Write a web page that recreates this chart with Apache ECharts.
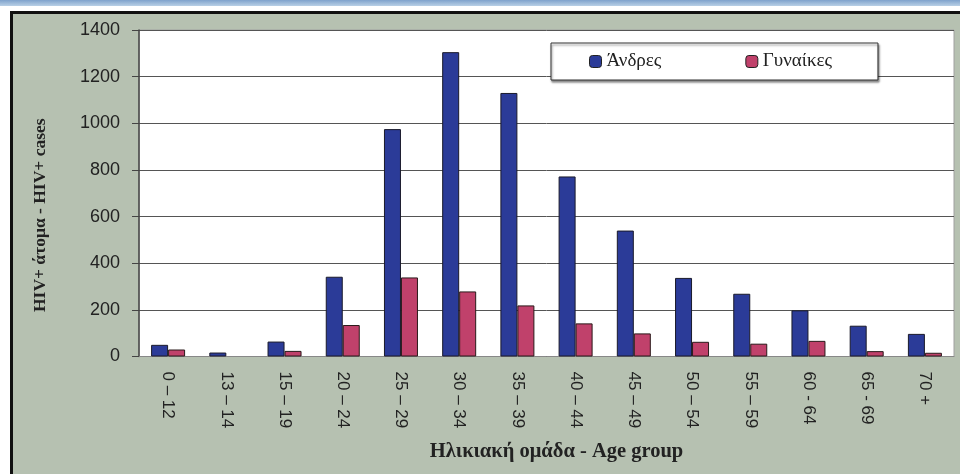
<!DOCTYPE html>
<html>
<head>
<meta charset="utf-8">
<script src="https://cdn.jsdelivr.net/npm/echarts@6/dist/echarts.min.js"></script>
<style>
html,body{margin:0;padding:0;background:#fff;}
#chart{width:960px;height:474px;}
</style>
</head>
<body>
<div id="chart"></div>
<script>
const categories = ['0 – 12','13 – 14','15 – 19','20 – 24','25 – 29','30 – 34','35 – 39','40 – 44','45 – 49','50 – 54','55 – 59','60 - 64','65 - 69','70 +'];
const men   = [50, 17, 64, 342, 975, 1305, 1130, 772, 540, 337, 269, 198, 132, 97];
const women = [30, null, 24, 135, 339, 279, 219, 142, 99, 63, 55, 67, 23, 16];
const seriesNames = ['Άνδρες', 'Γυναίκες'];
const yTicks = {min: 0, max: 1400, interval: 200};

const chart = echarts.init(document.getElementById('chart'), null, {renderer: 'canvas'});
chart.setOption({
  backgroundColor: '#ffffff',
  animation: false,
  graphic: [
    {type: 'rect', z: -10, silent: true, shape: {x: 0, y: 0, width: 960, height: 6},
     style: {fill: new echarts.graphic.LinearGradient(0, 0, 0, 1, [{offset: 0, color: '#7fa2cc'}, {offset: 1, color: '#b9d0e6'}])}},
    {type: 'rect', z: -10, silent: true, shape: {x: 11.5, y: 12.5, width: 960, height: 470},
     style: {fill: '#b6c1b1', stroke: '#111', lineWidth: 3}}
  ],
  legend: {
    data: seriesNames,
    left: 551, top: 43,
    padding: [9, 46, 9, 38],
    itemWidth: 12, itemHeight: 12, itemGap: 84,
    backgroundColor: '#ffffff',
    borderColor: '#333', borderWidth: 1,
    shadowColor: 'rgba(0,0,0,0.45)', shadowBlur: 2, shadowOffsetX: 1, shadowOffsetY: 2,
    textStyle: {fontFamily: 'Liberation Serif, DejaVu Serif, serif', fontSize: 19, color: '#222'},
    itemStyle: {borderColor: '#222', borderWidth: 1}
  },
  grid: {left: 139, right: 6, top: 30, bottom: 117.5, show: true, backgroundColor: '#ffffff', borderColor: '#a0a0a0', borderWidth: 1},
  xAxis: {
    type: 'category',
    data: categories,
    name: 'Ηλικιακή ομάδα - Age group',
    nameLocation: 'middle',
    nameGap: 85,
    nameTextStyle: {fontFamily: 'Liberation Serif, DejaVu Serif, serif', fontWeight: 'bold', fontSize: 20.5, color: '#222', padding: [0, 0, 0, 20]},
    axisLine: {lineStyle: {color: '#888', width: 1}},
    axisTick: {show: false},
    axisLabel: {rotate: -90, margin: 15, fontFamily: 'Liberation Sans, Arial, sans-serif', fontSize: 17, color: '#222', interval: 0}
  },
  yAxis: {
    type: 'value',
    min: yTicks.min, max: yTicks.max, interval: yTicks.interval,
    name: 'HIV+ άτομα - HIV+ cases',
    nameLocation: 'middle',
    nameGap: 90,
    nameRotate: 90,
    nameTextStyle: {fontFamily: 'Liberation Serif, DejaVu Serif, serif', fontWeight: 'bold', fontSize: 17.5, color: '#222', padding: [0, 44, 0, 0]},
    axisLine: {show: true, lineStyle: {color: '#444', width: 1.5}},
    axisTick: {show: true, length: 7, lineStyle: {color: '#444'}},
    axisLabel: {margin: 19, fontFamily: 'Liberation Sans, Arial, sans-serif', fontSize: 18, color: '#222', formatter: function (v) { return String(v); }},
    splitLine: {lineStyle: {color: '#555', width: 1}}
  },
  series: [
    {name: seriesNames[0], type: 'bar', data: men, barWidth: 17, barGap: '0%',
     itemStyle: {color: '#2b3b98', borderColor: '#1a1a2a', borderWidth: 1}},
    {name: seriesNames[1], type: 'bar', data: women, barWidth: 17, barGap: '0%',
     itemStyle: {color: '#c0416b', borderColor: '#2a1a1a', borderWidth: 1}}
  ]
});
</script>
</body>
</html>
